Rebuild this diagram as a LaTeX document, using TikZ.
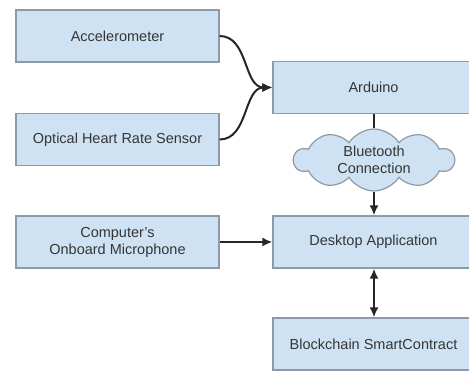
\documentclass[tikz,border=0pt]{standalone}
\usepackage{fontspec}
\setmainfont{Liberation Sans}
\usetikzlibrary{shapes.symbols,arrows.meta}
\definecolor{boxfill}{HTML}{CFE2F3}
\definecolor{boxline}{HTML}{8E9AA6}
\definecolor{txt}{HTML}{353535}
\begin{document}
\begin{tikzpicture}[x=1pt,y=1pt,
  blk/.style={draw=boxline,line width=1.2pt,fill=boxfill,minimum width=203pt,minimum height=52pt,inner sep=0pt,font=\fontsize{14.5}{17}\selectfont,text=txt,align=center},
  wide/.style={blk,minimum width=201pt},
  conn/.style={line width=2pt,black!85},
  arr/.style={conn,-{Latex[length=10pt,width=9pt]}}]
\useasboundingbox (0,0) rectangle (469,371);
\fill[white] (0,0) rectangle (469,371);
\node[blk] (acc) at (117.5,335) {Accelerometer};
\node[blk] (opt) at (117.5,231.5) {Optical Heart Rate Sensor};
\node[wide] (ard) at (373.5,283.5) {Arduino};
\node[cloud,cloud puffs=10,cloud puff arc=115,aspect=2.6,draw=boxline,line width=1.2pt,fill=boxfill,minimum width=160pt,minimum height=62pt,inner sep=0pt,font=\fontsize{14.5}{17}\selectfont,text=txt,align=center] (bt) at (374,211) {Bluetooth\\Connection};
\node[blk] (mic) at (117.5,129) {Computer's\\Onboard Microphone};
\node[wide] (desk) at (373.5,129) {Desktop Application};
\node[wide] (bc) at (373.5,27) {Blockchain SmartContract};
\draw[arr] (acc.east) to[out=0,in=180] (ard.west);
\draw[arr] (opt.east) to[out=0,in=180] (ard.west);
\coordinate (b1) at (374,181);
\draw[conn] (ard.south -| b1) -- (bt.north -| b1);
\draw[arr] (bt.south -| b1) -- (desk.north -| b1);
\draw[arr] (mic.east) -- (desk.west);
\draw[conn,{Latex[length=10pt,width=9pt]}-{Latex[length=10pt,width=9pt]}] (desk.south -| b1) -- (bc.north -| b1);
\end{tikzpicture}
\end{document}
